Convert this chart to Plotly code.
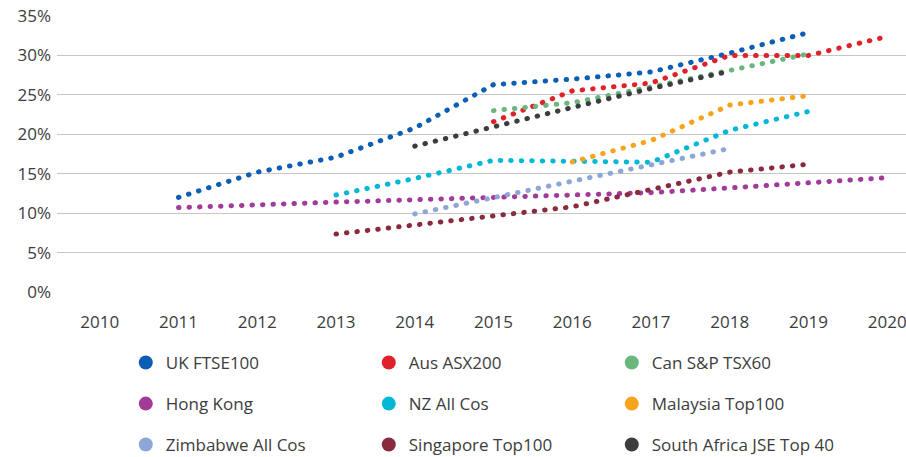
import plotly.graph_objects as go

# ---- data ----
years = [2011, 2012, 2013, 2014, 2015, 2016, 2017, 2018, 2019, 2020]

uk_ftse100 = [12.0, 15.2, 17.1, 20.8, 26.3, 27.0, 27.9, 30.3, 32.9, None]
aus_asx200 = [None, None, None, None, 21.6, 25.5, 26.5, 30.0, 30.0, 32.4]
can_tsx60 = [None, None, None, None, 23.0, 24.0, 26.0, 28.1, 30.2, None]
hong_kong = [10.7, 11.1, 11.4, 11.7, 12.0, 12.3, 12.6, 13.2, 13.8, 14.5]
nz_all_cos = [None, None, 12.3, 14.4, 16.7, 16.6, 16.45, 20.5, 22.9, None]
malaysia_top100 = [None, None, None, None, None, 16.5, 19.2, 23.7, 24.9, None]
zimbabwe_all_cos = [None, None, None, 9.9, 12.0, 14.1, 16.1, 18.2, None, None]
singapore_top100 = [None, None, 7.35, 8.5, 9.7, 10.8, 13.0, 15.2, 16.2, None]
south_africa_top40 = [None, None, None, 18.5, 21.0, 23.4, 25.8, 28.0, None, None]

year_ticks = list(range(2010, 2021))
pct_ticks = [0, 5, 10, 15, 20, 25, 30, 35]
# figure space pads the one-digit labels so they line up on the left
pct_labels = ["\u20070%", "\u20075%", "10%", "15%", "20%", "25%", "30%", "35%"]

# (name, values, colour, legend row)
series = [
    ("UK FTSE100", uk_ftse100, "#0a5eb5", "legend"),
    ("Aus ASX200", aus_asx200, "#e0212b", "legend"),
    ("Can S&P TSX60", can_tsx60, "#6bb67b", "legend"),
    ("Hong Kong", hong_kong, "#a23a99", "legend2"),
    ("NZ All Cos", nz_all_cos, "#00b8d5", "legend2"),
    ("Malaysia Top100", malaysia_top100, "#f7a41c", "legend2"),
    ("Zimbabwe All Cos", zimbabwe_all_cos, "#8da6d7", "legend3"),
    ("Singapore Top100", singapore_top100, "#8a2a3e", "legend3"),
    ("South Africa JSE Top 40", south_africa_top40, "#3d3d3d", "legend3"),
]

FONT = "Open Sans"
TEXT = "#3c3c3c"

fig = go.Figure()

for name, vals, color, leg in series:
    fig.add_trace(go.Scatter(
        x=years, y=vals, mode="lines", name=name,
        line=dict(color=color, width=5, dash="0.5px,10px"),
        showlegend=False, legendgroup=name, hoverinfo="skip",
    ))

# legend-only entries with round markers
for name, vals, color, leg in series:
    fig.add_trace(go.Scatter(
        x=[None], y=[None], mode="markers", name=name,
        marker=dict(color=color, size=14),
        legendgroup=name, legend=leg, showlegend=True,
    ))

legend_style = dict(
    orientation="h", xanchor="left", yanchor="middle", x=0.081,
    entrywidth=198, entrywidthmode="pixels",
    font=dict(family=FONT, size=17, color=TEXT),
    bgcolor="rgba(0,0,0,0)", itemclick=False, itemdoubleclick=False,
)

fig.update_layout(
    width=906, height=457,
    margin=dict(l=57, r=0, t=16, b=165, autoexpand=False),
    paper_bgcolor="white", plot_bgcolor="white",
    font=dict(family=FONT, size=17, color=TEXT),
    legend=dict(legend_style, y=-0.257),
    legend2=dict(legend_style, y=-0.406),
    legend3=dict(legend_style, y=-0.554),
    xaxis=dict(
        range=[2009.457, 2020.238], tickvals=year_ticks,
        showgrid=False, zeroline=False, showline=False, ticks="",
        ticklabelstandoff=18, ticklabeloverflow="allow",
    ),
    yaxis=dict(
        range=[0, 35], tickvals=pct_ticks, ticktext=pct_labels,
        showgrid=True, gridcolor="#c6c6c6", gridwidth=1,
        zeroline=False, showline=False, ticks="",
        ticklabelstandoff=5,
    ),
)

# no page margin, round caps so the dotted lines come out as round dots
page_css = (
    "var s=document.createElement('style');"
    "s.innerHTML='body{margin:0;}"
    ".scatterlayer .js-line{stroke-linecap:round !important;}';"
    "document.head.appendChild(s);"
)

fig.write_html("out.html", post_script=page_css,
               config={"displayModeBar": False})
